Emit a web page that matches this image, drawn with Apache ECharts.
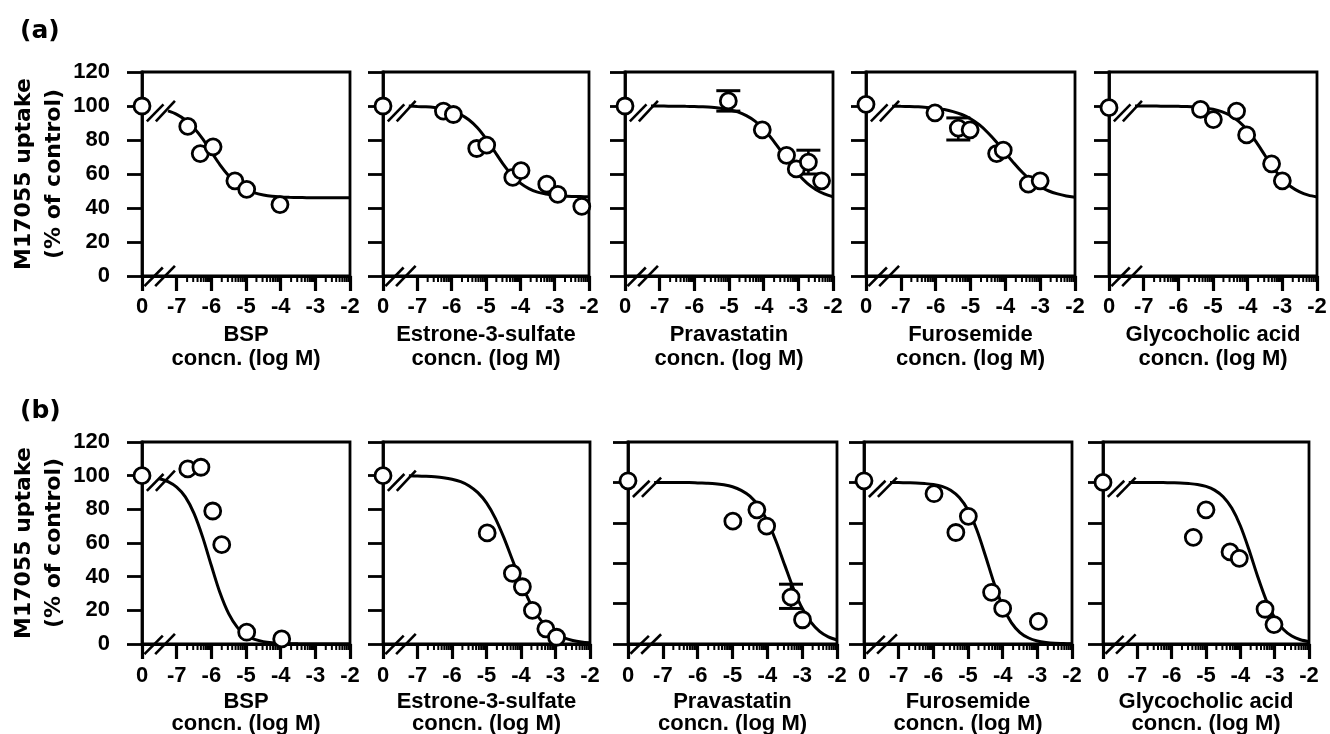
<!DOCTYPE html>
<html><head><meta charset="utf-8">
<script src="https://cdn.jsdelivr.net/npm/echarts@6/dist/echarts.min.js"></script>
<style>html,body{margin:0;padding:0;background:#fff}#c{width:1330px;height:734px}</style>
</head><body><div id="c"></div>
<script>
// ---------------- data ----------------
const xTicks = [-8, -7, -6, -5, -4, -3, -2];
const xTickLabels = ['0', '-7', '-6', '-5', '-4', '-3', '-2'];
const compounds = ['BSP', 'Estrone-3-sulfate', 'Pravastatin', 'Furosemide', 'Glycocholic acid'];
const xUnit = 'concn. (log M)';
const yTitle = 'M17055 uptake\n(% of control)';
const rowLabels = ['(a)', '(b)'];
const yMaxA = [120, 120, 120, 120, 120];
const yStepA = [20, 20, 20, 20, 20];
const yMaxB = [120, 120, 125, 125, 125];
const yStepB = [20, 20, 25, 25, 25];

// (a) observed points [log M, % of control]; -8 stands for the control ("0") position
const ptsA1 = [[-8,100],[-6.68,88],[-6.32,72],[-5.95,76],[-5.32,56],[-4.98,51],[-4.02,42]];
const ptsA2 = [[-8,100],[-6.24,97],[-5.95,95],[-5.27,75],[-4.98,77],[-4.22,58],[-3.98,62],[-3.23,54],[-2.91,48],[-2.21,41]];
const ptsA3 = [[-8,100],[-5.02,103],[-4.04,86],[-3.34,71],[-3.06,63],[-2.71,67],[-2.33,56]];
const ptsA4 = [[-8,101],[-6.02,96],[-5.35,87],[-5.01,86],[-4.25,72],[-4.06,74],[-3.34,54],[-3.0,56]];
const ptsA5 = [[-8,99],[-5.36,98],[-4.99,92],[-4.32,97],[-4.03,83],[-3.31,66],[-3.0,56]];
// (a) error bars [x, low, high]
const errA1 = [];
const errA2 = [];
const errA3 = [[-5.02,97,109],[-2.71,60,74]];
const errA4 = [[-5.35,80,93]];
const errA5 = [];
// fitted-curve x grid and curve heights
const fitX = [-7.25,-7,-6.75,-6.5,-6.25,-6,-5.75,-5.5,-5.25,-5,-4.75,-4.5,-4.25,-4,-3.75,-3.5,-3.25,-3,-2.75,-2.5,-2.25,-2];
const fitA1 = [97.1,95.1,91.8,87.0,80.6,73.0,65.4,59.0,54.2,50.9,48.9,47.7,46.9,46.5,46.3,46.2,46.1,46.0,46.0,46.0,46.0,46.0];
const fitA2 = [100,99.7,99.5,99.1,98.4,97.1,95.1,91.9,87.2,80.8,73.3,65.8,59.4,54.6,51.4,49.3,48.2,47.4,47.0,46.8,46.7,46.6];
const fitA3 = [100,100,99.9,99.9,99.8,99.7,99.5,99.2,98.7,97.8,96.5,94.3,91.1,86.4,80.4,73.4,66.3,59.8,54.6,50.9,48.3,46.6];
const fitA4 = [99.9,99.8,99.7,99.5,99.1,98.6,97.9,96.7,95.0,92.5,89.0,84.3,78.7,72.5,66.3,60.7,56.0,52.5,50.0,48.3,47.1,46.3];
const fitA5 = [100,100,100,99.9,99.9,99.8,99.7,99.4,98.9,98.1,96.7,94.5,90.8,85.6,78.7,70.9,63.3,57.1,52.5,49.5,47.6,46.5];

// (b)
const ptsB1 = [[-8,100],[-6.68,104],[-6.3,105],[-5.96,79],[-5.70,59],[-4.98,7],[-3.97,3]];
const ptsB2 = [[-8,100],[-4.98,66],[-4.25,42],[-3.96,34],[-3.67,20],[-3.28,9],[-2.97,4]];
const ptsB3 = [[-8,101],[-4.99,76],[-4.30,83],[-4.02,73],[-3.32,29],[-2.99,15]];
const ptsB4 = [[-8,101],[-5.98,93],[-5.35,69],[-4.99,79],[-4.32,32],[-4.0,22],[-2.97,14]];
const ptsB5 = [[-8,100],[-5.37,66],[-5.0,83],[-4.3,57],[-4.03,53],[-3.28,21.5],[-3.02,12]];
const errB1 = [];
const errB2 = [];
const errB3 = [[-3.32,22,37]];
const errB4 = [];
const errB5 = [];
const fitXB1 = [-7.5,-7.25,-7,-6.75,-6.5,-6.25,-6,-5.75,-5.5,-5.25,-5,-4.75,-4.5,-4.25,-4,-3.75,-3.5,-3.25,-3,-2.75,-2.5,-2.25,-2];
const fitB1 = [98.2,96.5,93.2,87.4,77.6,63.5,46.6,30.4,18.0,9.9,5.2,2.7,1.4,0.7,0.35,0.2,0.1,0.05,0,0,0,0,0];
const fitB2 = [99.9,99.8,99.6,99.3,98.8,97.9,96.4,93.9,89.9,83.8,74.9,63.3,50.0,36.7,25.1,16.2,10.1,6.1,3.6,2.1,1.2,0.7];
const fitB3 = [100,100,100,99.9,99.9,99.7,99.5,99.2,98.5,97.3,95.1,91.5,85.4,76.2,63.6,48.8,34.2,22.1,13.5,7.8,4.4,2.5];
const fitB4 = [100,99.9,99.8,99.7,99.3,98.7,97.5,95.1,90.6,82.9,70.8,54.8,37.8,23.4,13.2,7.1,3.7,1.9,1.0,0.5,0.3,0.1];
const fitB5 = [100,100,100,100,99.9,99.8,99.7,99.3,98.7,97.5,95.2,91.1,84.1,73.2,58.5,42.1,27.3,16.2,9.1,4.9,2.6,1.4];

// axis-break marks "//" (segments x1,y1,x2,y2 in data units)
const breakMarks = [[-7.86,91,-7.38,101],[-7.6,91,-7.05,103],[-7.93,-6,-7.4,5],[-7.62,-6,-7.05,6]];
// log-decade minor tick multipliers
const minorMult = [2,3,4,5,6,7,8,9];
const minorDecades = [-7,-6,-5,-4,-3];

// ---------------- layout ----------------
const rowA = {top: 72, height: 204, labelMargin: 20, nameGap: 47, nameLH: 24,
  panels: [[142,208],[383,206],[625,208],[866,209],[1109,208]]};
const rowB = {top: 442, height: 202, labelMargin: 21, nameGap: 47, nameLH: 22,
  panels: [[142,208],[383,207],[628,209],[864,208],[1103,206]]};

const FONT = 'Liberation Sans';
const minorTicks = [];
minorDecades.forEach(d => minorMult.forEach(m => minorTicks.push([d + Math.log10(m), 0])));
const zip = (xs, ys) => ys.map((y, i) => [xs[i], y]);

const rows = [
  {layout: rowA, pts: [ptsA1,ptsA2,ptsA3,ptsA4,ptsA5], err: [errA1,errA2,errA3,errA4,errA5],
   fit: [zip(fitX,fitA1),zip(fitX,fitA2),zip(fitX,fitA3),zip(fitX,fitA4),zip(fitX,fitA5)], yMax: yMaxA, yStep: yStepA},
  {layout: rowB, pts: [ptsB1,ptsB2,ptsB3,ptsB4,ptsB5], err: [errB1,errB2,errB3,errB4,errB5],
   fit: [zip(fitXB1,fitB1),zip(fitX,fitB2),zip(fitX,fitB3),zip(fitX,fitB4),zip(fitX,fitB5)], yMax: yMaxB, yStep: yStepB}
];

const grid = [], xAxis = [], yAxis = [], series = [];
let gi = 0;
rows.forEach((row, r) => {
  const L = row.layout;
  L.panels.forEach((p, c) => {
    grid.push({left: p[0], top: L.top, width: p[1], height: L.height, containLabel: false, outerBoundsMode: 'none',
      show: true, borderColor: '#000', borderWidth: 2.8, backgroundColor: 'transparent'});
    xAxis.push({
      gridIndex: gi, type: 'value', min: -8, max: -2, interval: 1,
      axisLine: {show: true, lineStyle: {color: '#000', width: 2.8}},
      axisTick: {show: true, inside: false, length: 15, lineStyle: {color: '#000', width: 3.2}},
      splitLine: {show: false},
      axisLabel: {show: true, margin: L.labelMargin, color: '#000', fontFamily: FONT, fontWeight: 'bold', fontSize: 22,
        formatter: v => xTickLabels[xTicks.indexOf(v)]},
      name: compounds[c] + '\n' + xUnit, nameLocation: 'middle', nameGap: L.nameGap,
      nameTextStyle: {color: '#000', fontFamily: FONT, fontWeight: 'bold', fontSize: 22, lineHeight: L.nameLH}
    });
    const ya = {
      gridIndex: gi, type: 'value', min: 0, max: row.yMax[c], interval: row.yStep[c],
      axisLine: {show: true, lineStyle: {color: '#000', width: 2.8}},
      axisTick: {show: true, inside: false, length: 15, lineStyle: {color: '#000', width: 2.8}},
      splitLine: {show: false},
      axisLabel: {show: c === 0, margin: 32, color: '#000', fontFamily: FONT, fontWeight: 'bold', fontSize: 22}
    };
    if (c === 0) {
      ya.name = yTitle; ya.nameLocation = 'middle'; ya.nameRotate = 90; ya.nameGap = 68;
      ya.nameTextStyle = {color: '#000', fontFamily: 'DejaVu Sans', fontWeight: 'bold', fontSize: 22, lineHeight: 30};
    }
    yAxis.push(ya);

    // minor ticks
    series.push({type: 'custom', xAxisIndex: gi, yAxisIndex: gi, data: minorTicks, silent: true, z: 1,
      encode: {x: 0, y: 1},
      renderItem: (params, api) => {
        const pt = api.coord([api.value(0), 0]);
        return {type: 'line', shape: {x1: pt[0], y1: pt[1], x2: pt[0], y2: pt[1] + 6}, style: {stroke: '#000', lineWidth: 2}};
      }});
    // break marks
    series.push({type: 'custom', xAxisIndex: gi, yAxisIndex: gi, data: breakMarks, silent: true, z: 5,
      encode: {x: [0, 2], y: [1, 3]},
      renderItem: (params, api) => {
        const a = api.coord([api.value(0), api.value(1)]);
        const b = api.coord([api.value(2), api.value(3)]);
        return {type: 'line', shape: {x1: a[0], y1: a[1], x2: b[0], y2: b[1]}, style: {stroke: '#000', lineWidth: 2.6}};
      }});
    // fitted curve
    series.push({type: 'line', xAxisIndex: gi, yAxisIndex: gi, data: row.fit[c], showSymbol: false, symbol: 'none',
      smooth: 0.3, clip: false, z: 3, silent: true,
      lineStyle: {color: '#000', width: 3}});
    // error bars
    if (row.err[c].length) {
      series.push({type: 'custom', xAxisIndex: gi, yAxisIndex: gi, data: row.err[c], silent: true, z: 2,
        encode: {x: 0, y: [1, 2]},
        renderItem: (params, api) => {
          const lo = api.coord([api.value(0), api.value(1)]);
          const hi = api.coord([api.value(0), api.value(2)]);
          const w = 12;
          return {type: 'group', children: [
            {type: 'line', shape: {x1: lo[0], y1: lo[1], x2: hi[0], y2: hi[1]}, style: {stroke: '#000', lineWidth: 2.6}},
            {type: 'line', shape: {x1: hi[0] - w, y1: hi[1], x2: hi[0] + w, y2: hi[1]}, style: {stroke: '#000', lineWidth: 3}},
            {type: 'line', shape: {x1: lo[0] - w, y1: lo[1], x2: lo[0] + w, y2: lo[1]}, style: {stroke: '#000', lineWidth: 3}}
          ]};
        }});
    }
    // points
    series.push({type: 'scatter', xAxisIndex: gi, yAxisIndex: gi, data: row.pts[c], symbol: 'circle', symbolSize: 16,
      clip: false, z: 6, silent: true,
      itemStyle: {color: '#fff', opacity: 1, borderColor: '#000', borderWidth: 2.8}});
    gi++;
  });
});

const chart = echarts.init(document.getElementById('c'), null, {renderer: 'canvas'});
chart.setOption({
  animation: false,
  backgroundColor: '#fff',
  title: [
    {text: rowLabels[0], left: 15, top: 14, textStyle: {fontFamily: 'DejaVu Sans', fontWeight: 'bold', fontSize: 25, color: '#000'}},
    {text: rowLabels[1], left: 15, top: 394, textStyle: {fontFamily: 'DejaVu Sans', fontWeight: 'bold', fontSize: 25, color: '#000'}}
  ],
  grid, xAxis, yAxis, series
});
</script></body></html>
